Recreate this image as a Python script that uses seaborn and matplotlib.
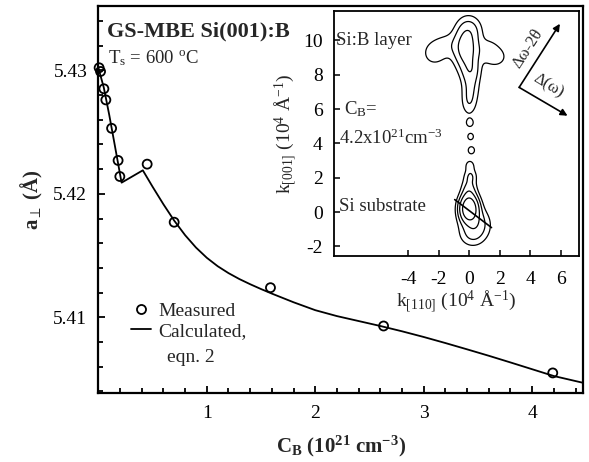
import numpy as np
import pandas as pd
import matplotlib
matplotlib.use("Agg")
import matplotlib.pyplot as plt
from matplotlib.lines import Line2D
from matplotlib.ticker import MultipleLocator, FixedLocator
import seaborn as sns

# ---------------- data ----------------
# measured lattice parameter vs boron concentration
meas_cb = [0.007, 0.02, 0.051, 0.069, 0.122, 0.182, 0.198, 0.45, 0.699, 1.587, 2.63, 4.19]
meas_a = [5.4302, 5.4299, 5.4285, 5.4276, 5.4253, 5.4227, 5.4214, 5.4224, 5.4177, 5.4124, 5.4093, 5.4055]

# calculated curve (eqn. 2)
calc_cb = [0.0, 0.05, 0.10, 0.15, 0.214, 0.41, 0.5, 0.6, 0.7, 0.8, 0.9, 1.0, 1.1, 1.2, 1.3,
           1.4, 1.5, 1.6, 1.8, 2.0, 2.2, 2.4, 2.6, 2.8, 3.0, 3.2, 3.4, 3.6,
           3.8, 4.0, 4.2, 4.47]
calc_a = [5.4302, 5.4286, 5.4264, 5.4240, 5.4209, 5.4219, 5.42057, 5.41915, 5.41782, 5.41665,
          5.41565, 5.41482, 5.41414, 5.41358, 5.41310, 5.41268, 5.41229, 5.41192, 5.41122,
          5.41058, 5.41010, 5.40970, 5.40930, 5.40887, 5.40841, 5.40792, 5.40741, 5.40689,
          5.40635, 5.40580, 5.40525, 5.40470]

# reciprocal-space map (inset): intensity maxima
# (kx, kz, relative intensity, width along kx, width along kz)
rsm_kx = [-0.2, 0.0, -1.3, -2.3, 1.2, 1.8, 0.1, 0.1, 0.0,
          0.05, 0.1, 0.15, 0.05, 0.1,
          0.0, 0.0, 0.4, 0.2, 0.4]
rsm_kz = [9.5, 10.6, 9.7, 9.2, 9.4, 9.0, 8.3, 7.3, 6.4,
          5.2, 4.4, 3.6, 2.7, 2.1,
          0.2, 1.2, -0.5, -1.4, -0.9]
rsm_amp = [2.6, 1.0, 0.5, 0.45, 0.5, 0.4, 1.2, 0.8, 0.6,
           0.5, 0.45, 0.5, 0.55, 0.7,
           8.0, 1.2, 1.0, 0.5, 0.7]
rsm_sx = [0.45, 0.5, 0.8, 0.5, 0.6, 0.45, 0.38, 0.35, 0.3,
          0.2, 0.2, 0.2, 0.2, 0.25,
          0.35, 0.3, 0.5, 0.5, 0.6]
rsm_sz = [0.7, 0.5, 0.5, 0.45, 0.5, 0.35, 0.5, 0.6, 0.5,
          0.2, 0.2, 0.2, 0.22, 0.28,
          0.45, 0.5, 0.5, 0.4, 0.5]
rsm_levels = [0.3, 0.8, 1.8, 4.0]

x_ticks = [1, 2, 3, 4]
y_ticks = [5.41, 5.42, 5.43]
inset_xticks = [-4, -2, 0, 2, 4, 6]
inset_yticks = [-2, 0, 2, 4, 6, 8, 10]

# ---------------- style ----------------
sns.set_theme(style="ticks")
plt.rcParams["font.family"] = ["Liberation Serif", "DejaVu Serif"]
plt.rcParams["mathtext.fontset"] = "custom"
plt.rcParams["mathtext.rm"] = "Liberation Serif"
plt.rcParams["mathtext.it"] = "Liberation Serif:italic"
plt.rcParams["mathtext.bf"] = "Liberation Serif:bold"
plt.rcParams["axes.linewidth"] = 1.5

fig = plt.figure(figsize=(5.89, 4.62), dpi=100)
ax = fig.add_axes([0.167, 0.150, 0.823, 0.837])

meas_df = pd.DataFrame({"cb": meas_cb, "a": meas_a})
calc_df = pd.DataFrame({"cb": calc_cb, "a": calc_a})

sns.lineplot(data=calc_df, x="cb", y="a", sort=False, color="black", lw=1.3, ax=ax)
sns.scatterplot(data=meas_df, x="cb", y="a", marker="o", s=42, facecolors="none",
                edgecolors="black", linewidths=1.3, ax=ax, zorder=3, clip_on=False)

ax.set_xlim(0, 4.47)
ax.set_ylim(5.4039, 5.4352)
ax.xaxis.set_major_locator(FixedLocator(x_ticks))
ax.xaxis.set_minor_locator(MultipleLocator(0.2))
ax.yaxis.set_major_locator(FixedLocator(y_ticks))
ax.yaxis.set_minor_locator(MultipleLocator(0.002))
ax.set_xticklabels([str(v) for v in x_ticks])
ax.set_yticklabels([f"{v:.2f}" for v in y_ticks])
ax.tick_params(which="both", direction="in", width=1.3, colors="black", labelsize=14)
ax.tick_params(axis="x", which="major", length=5, pad=9)
ax.tick_params(axis="x", which="minor", length=3.5)
ax.tick_params(axis="y", which="major", length=5, pad=8)
ax.tick_params(axis="y", which="minor", length=3.5)
for s in ax.spines.values():
    s.set_linewidth(1.6)
    s.set_color("black")

ax.set_xlabel(r"C$_\mathbf{B}$ (10$^\mathbf{21}$ cm$^\mathbf{-3}$)", fontsize=15,
              fontweight="bold", labelpad=8)
ax.set_ylabel(r"$\mathbf{a}_{\perp}$ (Å)", fontsize=15, fontweight="bold", labelpad=6)

ax.text(0.018, 0.935, "GS-MBE Si(001):B", transform=ax.transAxes, fontsize=16,
        fontweight="bold", va="center", ha="left")
ax.text(0.02, 0.866, r"T$_\mathrm{s}$ = 600 $^\mathrm{o}$C", transform=ax.transAxes,
        fontsize=13.5, va="center", ha="left")

handles = [Line2D([], [], ls="none", marker="o", mfc="none", mec="black", mew=1.3, ms=6.5),
           Line2D([], [], color="black", lw=1.3)]
leg = ax.legend(handles, ["Measured", "Calculated,"], loc="upper left",
                bbox_to_anchor=(0.04, 0.268), frameon=False, fontsize=14,
                handlelength=1.0, handletextpad=0.4, labelspacing=0.1, borderpad=0.2)
ax.text(0.191, 0.092, "eqn. 2", transform=ax.transAxes, fontsize=14,
        ha="center", va="center")

# ---------------- inset ----------------
ins = fig.add_axes([0.567, 0.446, 0.416, 0.530])
ins.set_facecolor("white")

gx = np.linspace(-8.85, 7.2, 400)
gz = np.linspace(-2.55, 11.7, 400)
GX, GZ = np.meshgrid(gx, gz)
inten = np.zeros_like(GX)
for cx, cz, a, sx, sz in zip(rsm_kx, rsm_kz, rsm_amp, rsm_sx, rsm_sz):
    inten += a * np.exp(-0.5 * (((GX - cx) / sx) ** 2 + ((GZ - cz) / sz) ** 2))
ins.contour(GX, GZ, inten, levels=rsm_levels, colors="black", linewidths=0.9)

# analyser streak through substrate peak
ins.plot([-0.94, 1.47], [0.73, -0.9], color="black", lw=1.2)

# scan-direction arrows
ins.annotate("", xy=(5.95, 10.96), xytext=(3.28, 7.26),
             arrowprops=dict(arrowstyle="-|>", color="black", lw=1.2, mutation_scale=10,
                             shrinkA=0, shrinkB=0))
ins.annotate("", xy=(6.45, 5.61), xytext=(3.28, 7.26),
             arrowprops=dict(arrowstyle="-|>", color="black", lw=1.2, mutation_scale=10,
                             shrinkA=0, shrinkB=0))
ins.text(3.85, 9.5, "Δω-2θ", rotation=57, fontsize=12, ha="center", va="center")
ins.text(5.2, 7.35, "Δ(ω)", rotation=-31, fontsize=12, ha="center", va="center")

ins.text(-8.7, 10.0, "Si:B layer", fontsize=13.5, ha="left", va="center")
ins.text(-8.2, 6.0, r"C$_\mathrm{B}$=", fontsize=13.5, ha="left", va="center")
ins.text(-8.5, 4.3, r"4.2x10$^{21}$cm$^{-3}$", fontsize=13.5, ha="left", va="center")
ins.text(-8.5, 0.35, "Si substrate", fontsize=13.5, ha="left", va="center")

ins.set_xlim(-8.85, 7.2)
ins.set_ylim(-2.55, 11.7)
ins.xaxis.set_major_locator(FixedLocator(inset_xticks))
ins.yaxis.set_major_locator(FixedLocator(inset_yticks))
ins.set_xticklabels([str(v) for v in inset_xticks])
ins.set_yticklabels([str(v) for v in inset_yticks])
ins.tick_params(which="both", direction="in", width=1.1, length=4, colors="black",
                labelsize=14)
ins.tick_params(axis="x", pad=11)
ins.tick_params(axis="y", pad=8)
for s in ins.spines.values():
    s.set_linewidth(1.3)
    s.set_color("black")
ins.set_xlabel(r"k$_{[110]}$ (10$^4$ Å$^{-1}$)", fontsize=14, labelpad=0)
ins.set_ylabel(r"k$_{[001]}$ (10$^4$ Å$^{-1}$)", fontsize=14, labelpad=4)

fig.savefig("out.png", dpi=100)
